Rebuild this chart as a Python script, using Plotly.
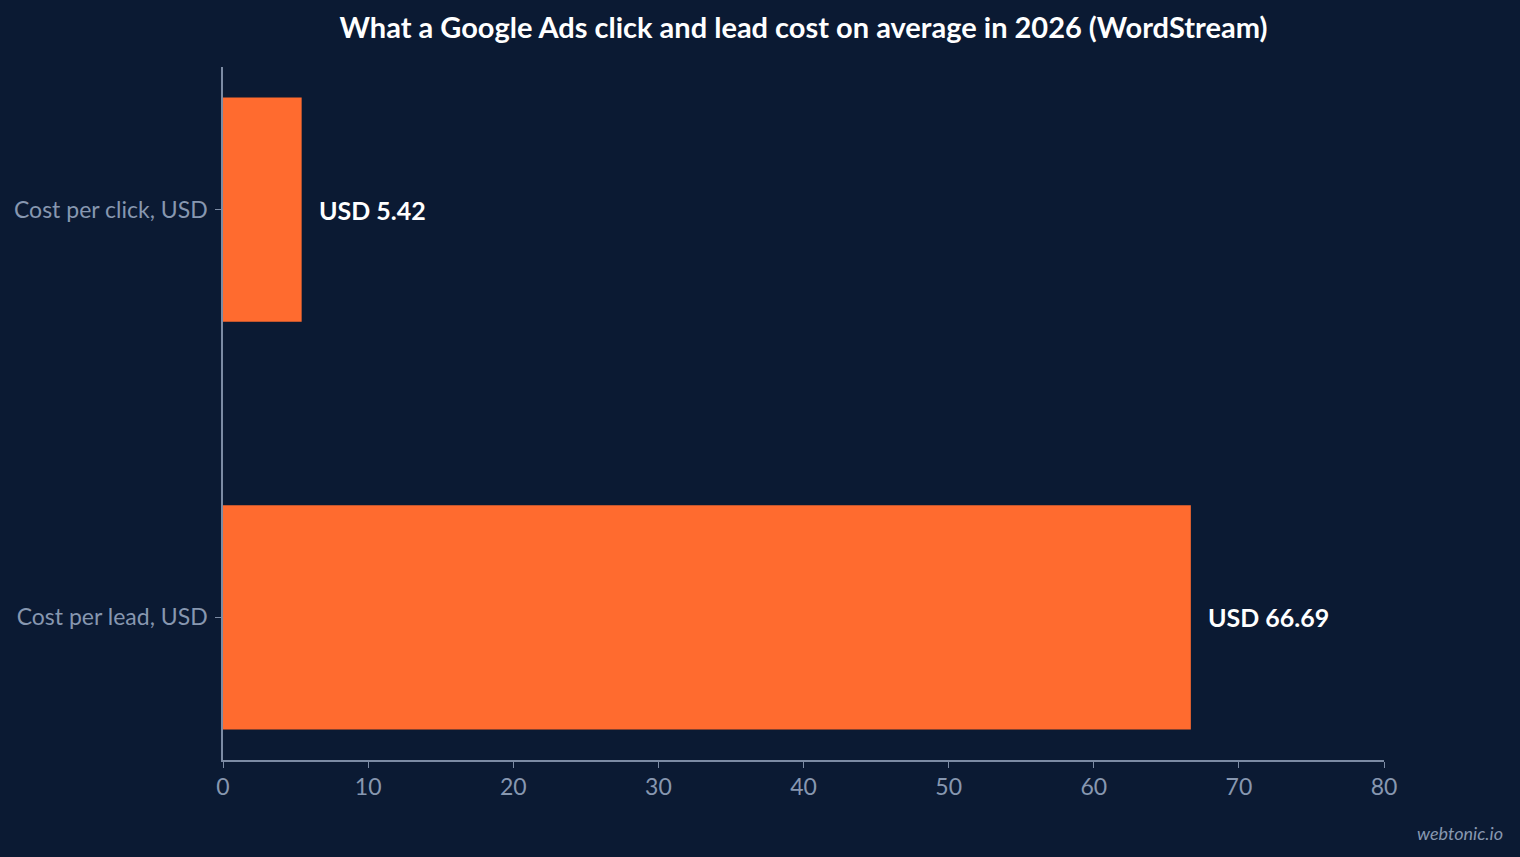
import plotly.graph_objects as go

categories = ["Cost per click, USD", "Cost per lead, USD"]
values = [5.42, 66.69]
value_labels = ["USD 5.42", "USD 66.69"]
x_ticks = [0, 10, 20, 30, 40, 50, 60, 70, 80]

BG = "#0b1a33"
ORANGE = "#ff6b2f"
MUTED = "#8797b0"
AXIS = "#7c8ba4"

fig = go.Figure()
fig.add_trace(
    go.Bar(
        x=values,
        y=categories,
        orientation="h",
        marker=dict(color=ORANGE, line=dict(width=0)),
        width=0.55,
        hoverinfo="skip",
    )
)

# value labels just right of each bar
for cat, val, lab in zip(categories, values, value_labels):
    fig.add_annotation(
        x=val,
        y=cat,
        text=f"<b>{lab}</b>",
        showarrow=False,
        xanchor="left",
        xshift=15,
        font=dict(family="Lato", size=25, color="#ffffff"),
    )

fig.add_annotation(
    xref="paper",
    yref="paper",
    x=1.104,
    y=-0.105,
    text="<i>webtonic.io</i>",
    showarrow=False,
    xanchor="right",
    yanchor="middle",
    font=dict(family="Lato", size=18, color=MUTED),
)

fig.update_layout(
    width=1520,
    height=857,
    paper_bgcolor=BG,
    plot_bgcolor=BG,
    margin=dict(l=223, r=136, t=67, b=97),
    showlegend=False,
    title=dict(
        text="<b>What a Google Ads click and lead cost on average in 2026 (WordStream)</b>",
        xref="paper",
        x=0.5,
        xanchor="center",
        y=0.967,
        yanchor="middle",
        font=dict(family="Lato", size=29, color="#ffffff"),
    ),
    font=dict(family="Lato"),
)

fig.update_xaxes(
    range=[0, 80],
    tickvals=x_ticks,
    showgrid=False,
    zeroline=False,
    showline=True,
    linecolor=AXIS,
    linewidth=1.5,
    ticks="outside",
    ticklen=6,
    tickcolor=AXIS,
    tickfont=dict(family="Lato", size=23, color=MUTED),
)
fig.update_yaxes(
    range=[1.35, -0.35],
    showgrid=False,
    zeroline=False,
    showline=True,
    linecolor=AXIS,
    linewidth=1.5,
    ticks="outside",
    ticklen=6,
    tickcolor=AXIS,
    ticklabelstandoff=3,
    tickfont=dict(family="Lato", size=23, color=MUTED),
)

# drop the default page margin so the figure fills the window
fig.write_html(
    "out.html",
    config={"displayModeBar": False},
    post_script="document.body.style.margin='0';document.body.style.background='#0b1a33';",
)
